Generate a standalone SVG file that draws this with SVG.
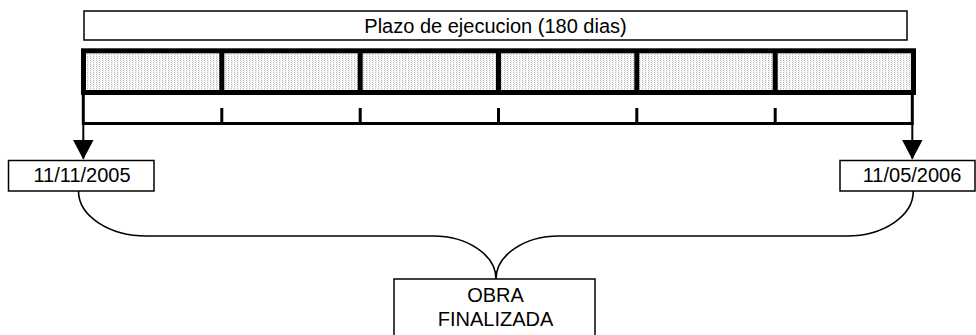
<svg xmlns="http://www.w3.org/2000/svg" width="976" height="335" viewBox="0 0 976 335">
<defs>
<pattern id="dots" width="3" height="2" patternUnits="userSpaceOnUse">
<rect width="3" height="2" fill="#ffffff"/>
<rect x="0" y="0" width="1" height="1" fill="#b4b4b4"/>
<rect x="1" y="1" width="1" height="1" fill="#e4e4e4"/>
</pattern>
<marker id="arr" markerWidth="20" markerHeight="21" refX="19" refY="10.5" viewBox="0 0 20 21" markerUnits="userSpaceOnUse" orient="auto">
<path d="M0,0 L20,10.5 L0,21 Z" fill="#000"/>
</marker>
</defs>
<style>
.box{fill:#fff;stroke:#000;stroke-width:1.5}
.t{font-family:"Liberation Sans",Arial,sans-serif;font-size:20px;fill:#000;text-anchor:middle}
.thick{stroke:#000;stroke-width:5;fill:none}
.mid{stroke:#000;stroke-width:3;fill:none}
.thin{stroke:#000;stroke-width:1.6;fill:none}
</style>
<rect width="976" height="335" fill="#fff"/>
<g id="plazo">
<rect class="box" x="84" y="11" width="823" height="29" stroke="#222"/>
<text class="t" x="495.5" y="33">Plazo de ejecucion (180 dias)</text>
</g>
<g id="bar">
<rect x="83.5" y="50.8" width="830" height="41.7" fill="url(#dots)"/>
<rect class="thick" x="83.5" y="50.8" width="830" height="41.7"/>
<line class="thick" x1="221.8" y1="50.8" x2="221.8" y2="92.5"/>
<line class="thick" x1="360.2" y1="50.8" x2="360.2" y2="92.5"/>
<line class="thick" x1="498.5" y1="50.8" x2="498.5" y2="92.5"/>
<line class="thick" x1="636.8" y1="50.8" x2="636.8" y2="92.5"/>
<line class="thick" x1="775.2" y1="50.8" x2="775.2" y2="92.5"/>
</g>
<g id="ticks">
<line class="mid" x1="83.3" y1="123.5" x2="912.3" y2="123.5"/>
<line class="mid" x1="221.8" y1="108" x2="221.8" y2="123.5"/>
<line class="mid" x1="360.2" y1="108" x2="360.2" y2="123.5"/>
<line class="mid" x1="498.5" y1="108" x2="498.5" y2="123.5"/>
<line class="mid" x1="636.8" y1="108" x2="636.8" y2="123.5"/>
<line class="mid" x1="775.2" y1="108" x2="775.2" y2="123.5"/>
</g>
<g id="start">
<rect class="box" x="8.5" y="160.5" width="145.5" height="30.5"/>
<text class="t" x="82" y="182">11/11/2005</text>
</g>
<g id="end">
<rect class="box" x="840" y="160.5" width="135" height="30.5"/>
<text class="t" x="912" y="182">11/05/2006</text>
</g>
<g id="obra">
<rect class="box" x="394" y="279" width="201" height="70"/>
<text class="t" x="495.5" y="302">OBRA</text>
<text class="t" x="495.5" y="326">FINALIZADA</text>
</g>
<g id="connectors">
<path class="mid" d="M83.3,92.5 L83.3,125"/>
<path class="mid" d="M912.3,92.5 L912.3,125"/>
<path d="M83.3,123 L83.3,158.5" stroke="#000" stroke-width="2" fill="none" marker-end="url(#arr)"/>
<path d="M912.3,123 L912.3,158.5" stroke="#000" stroke-width="2" fill="none" marker-end="url(#arr)"/>
<path class="thin" d="M78.5,191 A68.2 45 0 0 0 146.7,236 L433,236 A63 43 0 0 1 496,279"/>
<path class="thin" d="M913.3,191 A66.6 45 0 0 1 846.7,236 L559,236 A63 43 0 0 0 496,279"/>
</g>
</svg>
